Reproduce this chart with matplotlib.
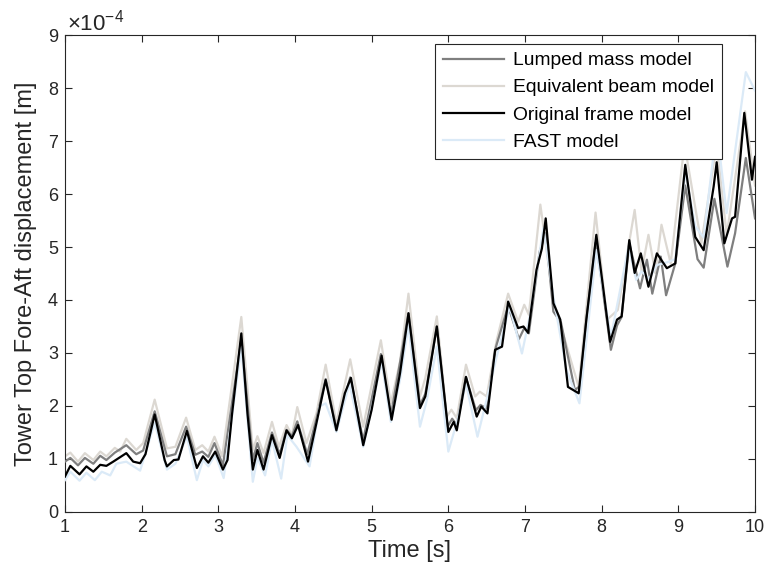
import matplotlib
matplotlib.use('Agg')
import numpy as np
import matplotlib.pyplot as plt
from matplotlib.ticker import FuncFormatter

plt.rcParams['font.family'] = ['Liberation Sans', 'DejaVu Sans']
plt.rcParams['mathtext.fontset'] = 'custom'
plt.rcParams['mathtext.rm'] = 'Liberation Sans'
plt.rcParams['mathtext.default'] = 'regular'

# values, in units of 1e-4 m (local peaks and troughs)
lumped_t = [1.00, 1.07, 1.17, 1.26, 1.37, 1.46, 1.54, 1.65, 1.80, 1.93, 2.02, 2.17, 2.33, 2.44,
            2.58, 2.70, 2.79, 2.87, 2.95, 3.06, 3.30, 3.45, 3.51, 3.59, 3.70, 3.80, 3.89, 3.96,
            4.03, 4.16, 4.28, 4.40, 4.54, 4.72, 4.89, 5.12, 5.25, 5.48, 5.63, 5.70, 5.85, 5.99,
            6.05, 6.11, 6.23, 6.36, 6.42, 6.50, 6.62, 6.78, 6.92, 6.99, 7.05, 7.19, 7.27, 7.37,
            7.47, 7.65, 7.72, 7.80, 7.92, 7.98, 8.12, 8.20, 8.26, 8.36, 8.50, 8.59, 8.66, 8.77,
            8.84, 8.96, 9.09, 9.25, 9.33, 9.47, 9.64, 9.74, 9.88, 10.00]
lumped_v = [0.95, 1.02, 0.88, 1.02, 0.91, 1.06, 0.98, 1.12, 1.26, 1.09, 1.16, 1.90, 1.05, 1.09,
            1.61, 1.08, 1.14, 1.04, 1.30, 0.88, 3.26, 0.98, 1.30, 0.93, 1.50, 1.09, 1.55, 1.43,
            1.71, 1.09, 1.76, 2.51, 1.57, 2.54, 1.35, 2.98, 1.81, 3.75, 2.02, 2.23, 3.50, 1.61,
            1.76, 1.64, 2.54, 1.92, 2.02, 1.95, 3.11, 3.89, 3.26, 3.47, 3.37, 4.91, 5.26, 3.78,
            3.57, 2.30, 2.38, 3.63, 5.08, 4.56, 3.06, 3.52, 3.68, 5.07, 4.22, 4.76, 4.12, 4.82,
            4.09, 4.69, 6.16, 4.77, 4.61, 5.91, 4.63, 5.26, 6.68, 5.54]

beam_t = [1.00, 1.07, 1.17, 1.26, 1.37, 1.46, 1.54, 1.65, 1.72, 1.80, 1.93, 2.02, 2.17, 2.33,
          2.44, 2.58, 2.70, 2.79, 2.87, 2.95, 3.05, 3.30, 3.45, 3.51, 3.59, 3.70, 3.79, 3.89,
          3.96, 4.03, 4.15, 4.28, 4.40, 4.54, 4.72, 4.89, 5.12, 5.25, 5.37, 5.48, 5.63, 5.70,
          5.85, 5.98, 6.04, 6.11, 6.23, 6.35, 6.41, 6.50, 6.63, 6.78, 6.91, 6.99, 7.05, 7.20,
          7.37, 7.54, 7.70, 7.92, 8.07, 8.21, 8.43, 8.52, 8.61, 8.70, 8.78, 8.90, 9.08, 9.30,
          9.50, 9.63, 9.87, 10.00]
beam_v = [1.05, 1.12, 0.95, 1.11, 0.98, 1.14, 1.05, 1.21, 1.14, 1.38, 1.17, 1.30, 2.12, 1.20,
          1.23, 1.78, 1.17, 1.26, 1.14, 1.42, 1.05, 3.68, 1.17, 1.43, 1.11, 1.70, 1.23, 1.64,
          1.45, 1.98, 1.30, 1.86, 2.78, 1.68, 2.88, 1.61, 3.24, 2.05, 2.84, 4.12, 2.18, 2.53,
          3.69, 1.80, 1.93, 1.77, 2.78, 2.18, 2.27, 2.18, 3.24, 4.12, 3.59, 3.91, 3.72, 5.80,
          4.00, 3.15, 2.36, 5.65, 3.63, 3.81, 5.70, 4.54, 5.23, 4.51, 5.42, 4.69, 6.94, 5.07,
          6.94, 5.23, 7.56, 6.16]

frame_t = [1.00, 1.07, 1.19, 1.28, 1.37, 1.46, 1.54, 1.63, 1.80, 1.89, 1.98, 2.05, 2.17, 2.30,
           2.33, 2.42, 2.48, 2.59, 2.72, 2.80, 2.87, 2.96, 3.06, 3.12, 3.18, 3.30, 3.38, 3.45,
           3.51, 3.59, 3.70, 3.80, 3.89, 3.96, 4.04, 4.17, 4.28, 4.40, 4.54, 4.65, 4.73, 4.89,
           5.00, 5.13, 5.26, 5.37, 5.48, 5.63, 5.70, 5.85, 6.00, 6.07, 6.11, 6.23, 6.37, 6.43,
           6.51, 6.61, 6.70, 6.78, 6.91, 6.98, 7.04, 7.15, 7.22, 7.27, 7.37, 7.46, 7.56, 7.70,
           7.80, 7.93, 8.11, 8.20, 8.26, 8.36, 8.43, 8.51, 8.61, 8.72, 8.85, 8.96, 9.09, 9.22,
           9.33, 9.46, 9.50, 9.60, 9.70, 9.74, 9.86, 9.96, 10.00]
frame_v = [0.67, 0.87, 0.71, 0.86, 0.76, 0.89, 0.87, 0.95, 1.11, 0.95, 0.92, 1.09, 1.84, 0.98,
           0.86, 0.98, 0.99, 1.53, 0.83, 1.05, 0.93, 1.14, 0.80, 0.98, 1.86, 3.37, 1.86, 0.80,
           1.17, 0.80, 1.45, 1.02, 1.54, 1.39, 1.64, 0.95, 1.68, 2.49, 1.54, 2.24, 2.53, 1.26,
           1.93, 2.95, 1.74, 2.62, 3.75, 1.96, 2.18, 3.50, 1.51, 1.70, 1.54, 2.55, 1.80, 1.99,
           1.86, 3.06, 3.12, 3.97, 3.47, 3.50, 3.38, 4.57, 4.97, 5.54, 3.94, 3.63, 2.36, 2.24,
           3.63, 5.23, 3.21, 3.63, 3.69, 5.13, 4.51, 4.88, 4.25, 4.88, 4.60, 4.69, 6.55, 5.19,
           4.94, 6.14, 6.60, 5.07, 5.54, 5.57, 7.53, 6.27, 6.70]

fast_t = [1.00, 1.07, 1.19, 1.28, 1.39, 1.48, 1.59, 1.67, 1.80, 1.98, 2.17, 2.33, 2.44, 2.59,
          2.72, 2.80, 2.87, 2.96, 3.07, 3.30, 3.45, 3.51, 3.61, 3.70, 3.82, 3.90, 4.02, 4.19,
          4.32, 4.40, 4.54, 4.71, 4.89, 5.13, 5.25, 5.37, 5.48, 5.63, 5.72, 5.85, 6.00, 6.12,
          6.23, 6.38, 6.51, 6.63, 6.80, 6.96, 7.07, 7.24, 7.37, 7.54, 7.71, 7.93, 8.12, 8.35,
          8.45, 8.52, 8.62, 8.72, 8.85, 8.96, 9.09, 9.22, 9.33, 9.50, 9.63, 9.88, 10.00]
fast_v = [0.60, 0.76, 0.59, 0.74, 0.60, 0.76, 0.69, 0.91, 0.95, 0.78, 1.68, 0.80, 0.91, 1.42,
          0.60, 0.98, 0.86, 1.08, 0.64, 3.11, 0.57, 1.02, 0.69, 1.36, 0.63, 1.45, 1.23, 0.86,
          1.99, 2.05, 1.51, 2.42, 1.23, 2.84, 1.70, 2.49, 3.52, 1.61, 2.11, 3.12, 1.14, 1.74,
          2.42, 1.42, 2.18, 2.93, 3.87, 2.99, 3.75, 5.36, 4.06, 2.68, 2.05, 4.94, 3.30, 5.00,
          4.38, 4.54, 4.40, 4.66, 4.71, 4.77, 6.42, 5.39, 5.18, 7.25, 5.64, 8.30, 7.95]

labels = ['Lumped mass model', 'Equivalent beam model', 'Original frame model', 'FAST model']
colors = ['#7f7f7f', '#dcd8d2', 'black', '#dbeaf7']
scale = 1e-4

fig = plt.figure(figsize=(7.67, 5.77), dpi=100)
ax = fig.add_axes([0.0847, 0.1127, 0.9844 - 0.0847, 0.9393 - 0.1127])

series = [(lumped_t, lumped_v, 3), (beam_t, beam_v, 2), (frame_t, frame_v, 5), (fast_t, fast_v, 4)]
handles = []
for (t, v, z), c, lab in zip(series, colors, labels):
    h, = ax.plot(t, np.array(v) * scale, color=c, lw=1.6, zorder=z, label=lab,
                 solid_joinstyle='round')
    handles.append(h)

leg = ax.legend(handles, labels, loc='upper right', bbox_to_anchor=(0.952, 0.981),
                borderaxespad=0, fontsize=13.9, handlelength=3.15, handletextpad=0.5,
                labelspacing=0.5, borderpad=0.4, fancybox=False, framealpha=1,
                edgecolor='#262626')
leg.get_frame().set_linewidth(0.8)

ax.set_xlim(1, 10)
ax.set_ylim(0, 9e-4)
ax.set_xticks(range(1, 11))
ax.set_yticks(np.arange(0, 10) * scale)
ax.yaxis.set_major_formatter(FuncFormatter(lambda y, _: f'{y / scale:.0f}'))
ax.annotate(r'$\times10^{-4}$', xy=(0, 1), xycoords='axes fraction', xytext=(1.5, 3.5),
            textcoords='offset points', fontsize=16, color='#262626', va='baseline')

ax.tick_params(direction='in', top=True, right=True, length=5, width=0.8,
               labelsize=13, colors='#262626', pad=5)
for sp in ax.spines.values():
    sp.set_linewidth(0.8)
    sp.set_color('#262626')

ax.set_xlabel('Time [s]', fontsize=17, color='#262626', labelpad=3)
ax.set_ylabel('Tower Top Fore-Aft displacement [m]', fontsize=17, color='#262626', labelpad=8)

fig.savefig('out.png', dpi=100)
